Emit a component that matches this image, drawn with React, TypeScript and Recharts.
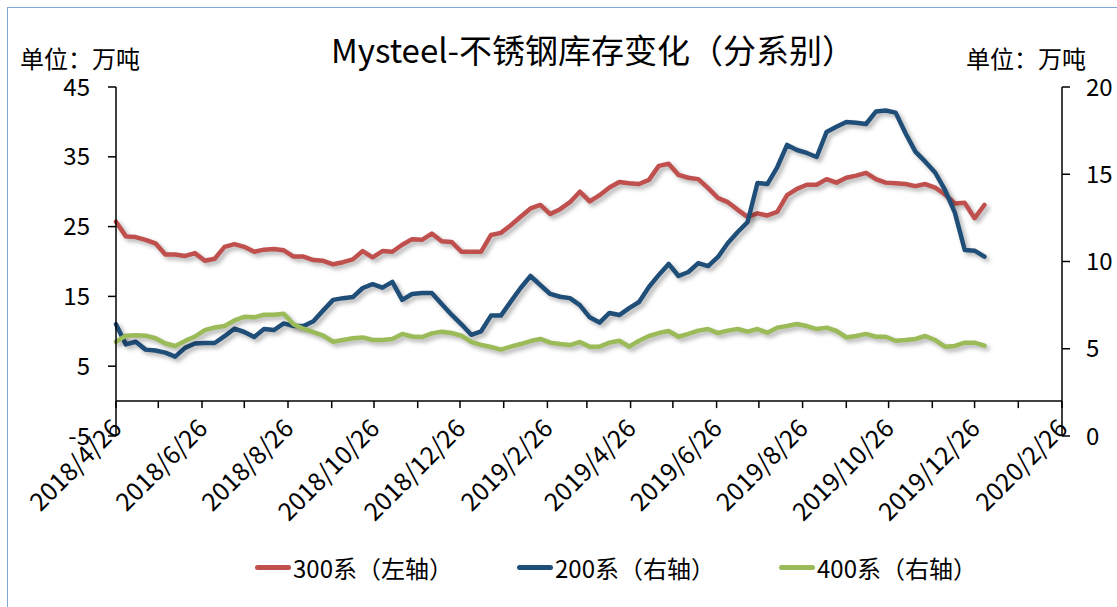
import { LineChart, Line, XAxis, YAxis, ReferenceLine } from "recharts"

const FONT = '"Noto Sans CJK SC", "Noto Sans", sans-serif'
const DAY = 86400000
const START = Date.UTC(2018, 3, 26)
const END = Date.UTC(2020, 1, 26)

// weekly inventory, 万吨
const s300 = [
  25.7, 23.6, 23.5, 23.1, 22.6, 21.0, 21.0, 20.8, 21.2, 20.1,
  20.4, 22.1, 22.5, 22.1, 21.4, 21.7, 21.8, 21.6, 20.7, 20.7,
  20.2, 20.1, 19.6, 19.9, 20.3, 21.5, 20.6, 21.5, 21.4, 22.4,
  23.2, 23.1, 24.0, 22.9, 22.8, 21.4, 21.4, 21.4, 23.8, 24.1,
  25.2, 26.4, 27.6, 28.1, 26.8, 27.5, 28.5, 30.0, 28.6, 29.5,
  30.6, 31.4, 31.2, 31.1, 31.7, 33.7, 34.0, 32.4, 32.0, 31.8,
  30.5, 29.1, 28.5, 27.4, 26.4, 26.9, 26.6, 27.1, 29.5, 30.4,
  31.0, 31.0, 31.8, 31.3, 32.0, 32.3, 32.7, 31.8, 31.3, 31.2,
  31.1, 30.8, 31.1, 30.6, 29.6, 28.3, 28.4, 26.2, 28.1,
]
const s200 = [
  6.4, 5.25, 5.4, 4.95, 4.9, 4.78, 4.55, 5.05, 5.3, 5.33,
  5.33, 5.72, 6.15, 5.96, 5.67, 6.13, 6.07, 6.45, 6.3, 6.3,
  6.58, 7.2, 7.8, 7.9, 7.96, 8.48, 8.7, 8.5, 8.83, 7.8,
  8.14, 8.19, 8.19, 7.56, 6.95, 6.4, 5.8, 6.0, 6.9, 6.9,
  7.7, 8.48, 9.17, 8.65, 8.14, 7.98, 7.9, 7.5, 6.8, 6.5,
  7.05, 6.93, 7.33, 7.68, 8.54, 9.23, 9.86, 9.17, 9.4, 9.91,
  9.74, 10.26, 11.06, 11.69, 12.26, 14.5, 14.44, 15.4, 16.68, 16.39,
  16.22, 15.99, 17.42, 17.72, 18.0, 17.95, 17.88, 18.59, 18.65, 18.53,
  17.35, 16.3, 15.72, 15.1, 14.1, 12.8, 10.66, 10.62, 10.28,
]
const s400 = [
  5.4, 5.75, 5.78, 5.75, 5.6, 5.3, 5.16, 5.45, 5.7, 6.07,
  6.22, 6.3, 6.62, 6.83, 6.8, 6.95, 6.95, 7.0, 6.4, 6.15,
  5.95, 5.75, 5.4, 5.5, 5.6, 5.65, 5.5, 5.5, 5.56, 5.85,
  5.7, 5.67, 5.88, 5.98, 5.9, 5.75, 5.4, 5.22, 5.1, 4.95,
  5.12, 5.27, 5.44, 5.56, 5.35, 5.27, 5.21, 5.39, 5.12, 5.12,
  5.35, 5.46, 5.12, 5.46, 5.73, 5.9, 6.02, 5.69, 5.85, 6.04,
  6.13, 5.9, 6.04, 6.13, 5.98, 6.13, 5.92, 6.21, 6.3, 6.42,
  6.3, 6.13, 6.21, 6.02, 5.65, 5.73, 5.85, 5.69, 5.69, 5.46,
  5.5, 5.56, 5.73, 5.5, 5.12, 5.16, 5.35, 5.35, 5.18,
]

const leftTicks = [-5, 5, 15, 25, 35, 45]
const rightTicks = [0, 5, 10, 15, 20]

const series = [
  { key: "s300", name: "300系（左轴）", color: "#c0504d", axis: "left" },
  { key: "s200", name: "200系（右轴）", color: "#1f4e79", axis: "right" },
  { key: "s400", name: "400系（右轴）", color: "#9bbb59", axis: "right" },
]

// weekly dates starting 2018/4/26
const data = s300.map((v, i) => ({
  t: START + i * 7 * DAY,
  s300: v,
  s200: s200[i],
  s400: s400[i],
}))

// month ticks on the 26th, labels every second month
const monthTicks: number[] = []
for (let m = 3; ; m++) {
  const t = Date.UTC(2018, m, 26)
  if (t > END) break
  monthTicks.push(t)
}

const fmt = (t: number) => {
  const d = new Date(t)
  return `${d.getUTCFullYear()}/${d.getUTCMonth() + 1}/${d.getUTCDate()}`
}

const PLOT_TOP = 87
const PLOT_BOTTOM = 436
// x axis crosses the left axis at 0
const AXIS_SHIFT = ((PLOT_BOTTOM - PLOT_TOP) * 5) / 50

const DateTick = (props: any) => {
  const { x, y, payload, index } = props
  const ay = y - AXIS_SHIFT
  const lx = x + 7
  const ly = y - 6
  return (
    <g>
      <line x1={x} y1={ay} x2={x} y2={ay + 7} stroke="#000" strokeWidth={1.5} />
      {index % 2 === 0 && (
        <text
          x={lx}
          y={ly}
          textAnchor="end"
          fontSize={25}
          fontFamily={FONT}
          fill="#000"
          transform={`rotate(-45 ${lx} ${ly})`}
        >
          {fmt(payload.value)}
        </text>
      )}
    </g>
  )
}

const textStyle = { fill: "#000", fontSize: 24, fontFamily: FONT }
const lineStyle = { stroke: "#000", strokeWidth: 1.5 }

export default function App() {
  return (
    <div style={{ position: "absolute", left: 0, top: 0, width: 1117, height: 607, background: "#fff", fontFamily: FONT, overflow: "hidden" }}>
      <style>{`.recharts-line-curve { filter: drop-shadow(3px 3px 2px rgba(0,0,0,0.3)); }`}</style>
      <div style={{ position: "absolute", left: 7, top: 7, width: 1110, height: 600, borderLeft: "1.5px solid #7ea6d6", borderTop: "1.5px solid #7ea6d6" }} />
      <div style={{ position: "absolute", left: 293, top: 30, width: 600, textAlign: "center", fontSize: 33, lineHeight: "38px", color: "#000" }}>
        Mysteel-不锈钢库存变化（分系别）
      </div>
      <div style={{ position: "absolute", left: 20, top: 48, fontSize: 24, lineHeight: "20px", color: "#000" }}>单位：万吨</div>
      <div style={{ position: "absolute", left: 966, top: 48, fontSize: 24, lineHeight: "20px", color: "#000" }}>单位：万吨</div>

      <div style={{ position: "absolute", left: 0, top: 0 }}>
        <LineChart width={1117} height={607} data={data} margin={{ top: PLOT_TOP, left: 56, right: 5, bottom: 141 }}>
          <XAxis
            dataKey="t"
            type="number"
            domain={[START, END]}
            ticks={monthTicks}
            interval={0}
            axisLine={false}
            tickLine={false}
            tickSize={0}
            tickMargin={0}
            height={30}
            tick={DateTick}
          />
          <YAxis
            yAxisId="left"
            domain={[-5, 45]}
            ticks={leftTicks}
            interval={0}
            width={60}
            tickSize={8}
            tickMargin={18}
            axisLine={lineStyle}
            tickLine={lineStyle}
            tick={textStyle}
          />
          <YAxis
            yAxisId="right"
            orientation="right"
            domain={[0, 20]}
            ticks={rightTicks}
            interval={0}
            width={50}
            tickSize={8}
            tickMargin={16}
            axisLine={lineStyle}
            tickLine={lineStyle}
            tick={{ ...textStyle, textAnchor: "start" }}
          />
          <ReferenceLine yAxisId="left" y={0} stroke="#000" strokeWidth={1.5} />
          {series.map((s) => (
            <Line
              key={s.key}
              yAxisId={s.axis}
              dataKey={s.key}
              name={s.name}
              type="linear"
              stroke={s.color}
              strokeWidth={4.5}
              strokeLinejoin="round"
              strokeLinecap="round"
              dot={false}
              isAnimationActive={false}
            />
          ))}
        </LineChart>
      </div>

      {series.map((s, i) => (
        <div key={s.key} style={{ position: "absolute", left: 255 + i * 262, top: 552, height: 30, display: "flex", alignItems: "center", fontSize: 24, color: "#000" }}>
          <div style={{ width: 36, height: 5, borderRadius: 3, background: s.color, marginRight: 2 }} />
          <span>{s.name}</span>
        </div>
      ))}
    </div>
  )
}
